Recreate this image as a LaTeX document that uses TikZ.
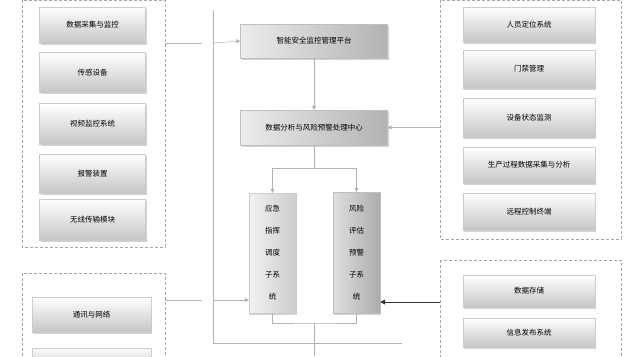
\documentclass[tikz,border=0pt]{standalone}
\usepackage{fontspec}
\newfontfamily\cjk{Noto Sans CJK SC}
\usetikzlibrary{shadows,arrows.meta}
\begin{document}
\begin{tikzpicture}[x=1pt,y=-1pt,
  grp/.style={draw=gray!70,densely dashed,line width=0.6pt},
  sbox/.style={draw=gray!40,top color=white,bottom color=gray!45,drop shadow={opacity=0.35,shadow xshift=1pt,shadow yshift=-1.5pt},font=\cjk\fontsize{7.5}{9}\selectfont,text=black,inner sep=0pt},
  hbox/.style={draw=gray!50,left color=gray!15,right color=gray!60,drop shadow={opacity=0.35,shadow xshift=1pt,shadow yshift=-1.5pt},font=\cjk\fontsize{7.5}{9}\selectfont,inner sep=0pt},
  vboxl/.style={draw=gray!40,left color=gray!10,right color=gray!40,drop shadow={opacity=0.35,shadow xshift=1pt,shadow yshift=-1.5pt},font=\cjk\fontsize{7.5}{22}\selectfont,inner sep=0pt,align=center},
  vboxr/.style={draw=gray!50,left color=gray!25,right color=gray!65,drop shadow={opacity=0.35,shadow xshift=1pt,shadow yshift=-1.5pt},font=\cjk\fontsize{7.5}{22}\selectfont,inner sep=0pt,align=center},
  ln/.style={draw=gray!60,line width=0.5pt},
  arr/.style={ln,-{Triangle[length=4pt,width=4pt]}}]
\useasboundingbox[fill=white] (0,0) rectangle (629,356);
% groups
\draw[grp] (22,0) rectangle (165,247);
\draw[grp] (22,273) rectangle (165,360);
\draw[grp] (440,0) rectangle (621,239);
\draw[grp] (440,260) rectangle (621,360);
% left boxes
\node[sbox,minimum width=106pt,minimum height=36pt] (l1) at (92.5,25) {数据采集与监控};
\node[sbox,minimum width=106pt,minimum height=40pt] (l2) at (92.5,72.5) {传感设备};
\node[sbox,minimum width=106pt,minimum height=41pt] (l3) at (92.5,124) {视频监控系统};
\node[sbox,minimum width=106pt,minimum height=39pt] (l4) at (92.5,173.5) {报警装置};
\node[sbox,minimum width=106pt,minimum height=41pt] (l5) at (92.5,219.5) {无线传输模块};
\node[sbox,minimum width=119pt,minimum height=35pt] (b1) at (91.5,314.5) {通讯与网络};
\node[sbox,minimum width=119pt,minimum height=20pt] (b2) at (91.5,358) {};
% right boxes
\node[sbox,minimum width=132pt,minimum height=35pt] (r1) at (529,24.5) {人员定位系统};
\node[sbox,minimum width=132pt,minimum height=38pt] (r2) at (529,69) {门禁管理};
\node[sbox,minimum width=132pt,minimum height=39pt] (r3) at (529,117.5) {设备状态监测};
\node[sbox,minimum width=132pt,minimum height=36pt] (r4) at (529,165) {生产过程数据采集与分析};
\node[sbox,minimum width=132pt,minimum height=37pt] (r5) at (529,211.5) {远程控制终端};
\node[sbox,minimum width=132pt,minimum height=32pt] (s1) at (529,291) {数据存储};
\node[sbox,minimum width=132pt,minimum height=29pt] (s2) at (529,332.5) {信息发布系统};
% center
\node[hbox,minimum width=147pt,minimum height=34pt] (c1) at (314,41) {智能安全监控管理平台};
\node[hbox,minimum width=147pt,minimum height=35pt] (c2) at (314,127.5) {数据分析与风险预警处理中心};
\node[vboxl,minimum width=47pt,minimum height=120pt] (v1) at (272.5,253) {应急\\指挥\\调度\\子系\\统};
\node[vboxr,minimum width=47pt,minimum height=121pt] (v2) at (356.5,252.5) {风险\\评估\\预警\\子系\\统};
% bus
\coordinate (bt) at (213,10);
\coordinate (bb) at (213,343);
\draw[ln] (bt) -- (bb) -- (402,343);
\draw[ln] (165,43) -- (202,43);
\draw[ln] (165,300) -- (202,300);
\draw[arr] (213,43) -- (c1.west);
\draw[arr] (c1.south) -- (c2.north);
\draw[arr] (440,127.5) -- (c2.east);
\coordinate (sp) at (314,168);
\draw[ln] (c2.south) -- (sp);
\draw[arr] (sp) -| (v1.north);
\draw[arr] (sp) -| (v2.north);
\draw[arr] (213,300) -- (v1.west |- 0,300);
\draw[-{Triangle[length=5pt,width=5pt]},draw=gray!40!black,fill=gray!40!black,line width=0.9pt] (440,302) -- (v2.east |- 0,302);
\coordinate (jn) at (314,323);
\draw[ln] (v1.south) |- (jn) -| (v2.south);
\draw[ln] (jn) -- (314,356);
\end{tikzpicture}
\end{document}
